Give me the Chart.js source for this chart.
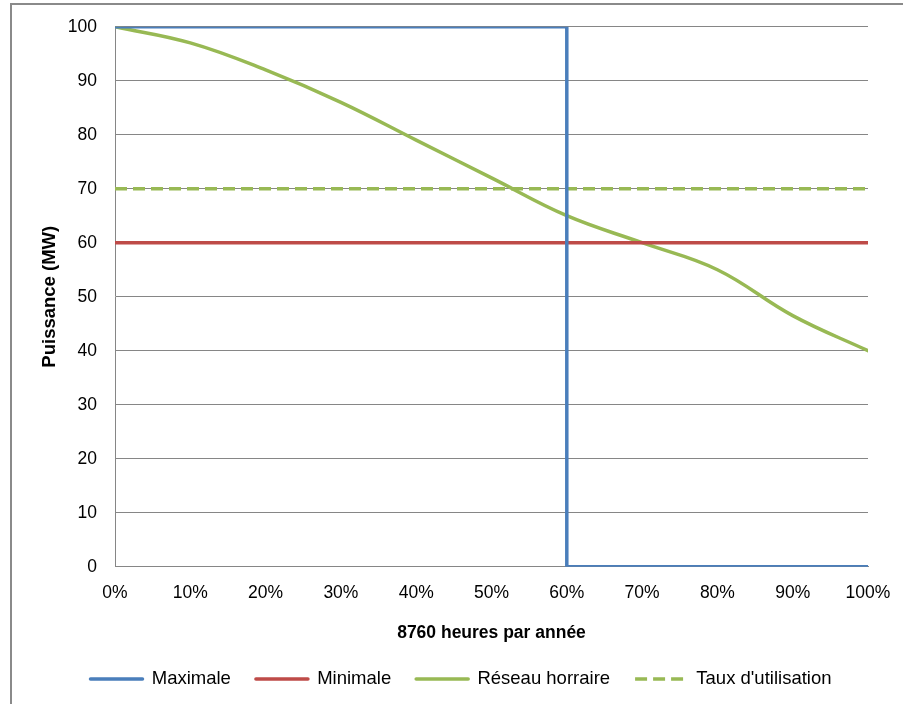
<!DOCTYPE html>
<html>
<head>
<meta charset="utf-8">
<script src="https://cdn.jsdelivr.net/npm/chart.js@4/dist/chart.umd.min.js"></script>
<style>
  html, body { margin: 0; padding: 0; background: #fff; overflow: hidden; }
  #frame { position: absolute; left: 10px; top: 3px; width: 1000px; height: 1000px; border: 2px solid #8a8a8a; }
  #chart { position: absolute; left: 0; top: 0; }
</style>
</head>
<body>
<div id="frame"></div>
<canvas id="chart" width="903" height="704"></canvas>
<script>
// x positions in % of the 8760 hours of the year
var hoursPct = [0, 10, 20, 30, 40, 50, 60, 70, 80, 90, 100];
// hourly network load (MW)
var reseauHoraire = [100, 97, 92, 86, 79, 72, 65, 60, 55, 46.5, 40];
// maximal production: full power up to 60% of the year then zero
var maximaleX = [0, 60, 60, 100];
var maximaleY = [100, 100, 0, 0];
var minimale = 60;
var tauxUtilisation = 70;
var yTicks = [0, 10, 20, 30, 40, 50, 60, 70, 80, 90, 100];

var FONT = '"Liberation Sans", Arial, sans-serif';
var GRID = '#868686';

function points(xs, ys) {
    return xs.map(function (x, i) { return { x: x, y: ys[i] }; });
}

document.addEventListener('DOMContentLoaded', function () {
    var ctx = document.getElementById('chart').getContext('2d');

    new Chart(ctx, {
        type: 'line',
        data: {
            datasets: [{
                label: 'Maximale',
                data: points(maximaleX, maximaleY),
                borderColor: '#4a7ebb',
                borderWidth: 3.5,
                borderCapStyle: 'round',
                tension: 0
            }, {
                label: 'Minimale',
                data: points([0, 100], [minimale, minimale]),
                borderColor: '#be4b48',
                borderWidth: 3.5,
                borderCapStyle: 'round',
                tension: 0
            }, {
                label: 'Réseau horraire',
                data: points(hoursPct, reseauHoraire),
                borderColor: '#98b954',
                borderWidth: 3.5,
                borderCapStyle: 'round',
                tension: 0.4
            }, {
                label: "Taux d'utilisation",
                data: points([0, 100], [tauxUtilisation, tauxUtilisation]),
                borderColor: '#98b954',
                borderWidth: 3.5,
                borderDash: [12, 6],
                borderCapStyle: 'butt',
                tension: 0
            }]
        },
        options: {
            responsive: false,
            animation: false,
            elements: { point: { radius: 0, hoverRadius: 0 } },
            layout: { padding: { left: 32, right: 13, top: 26.7, bottom: 5.75 } },
            scales: {
                x: {
                    type: 'linear',
                    min: 0,
                    max: 100,
                    grid: { display: false, drawTicks: false },
                    border: { display: true, color: GRID, width: 1 },
                    ticks: {
                        stepSize: 10,
                        padding: 16,
                        color: '#000',
                        font: { family: FONT, size: 17.5 },
                        callback: function (v) { return v + '%'; }
                    },
                    title: {
                        display: true,
                        text: '8760 heures par année',
                        color: '#000',
                        font: { family: FONT, size: 17.5, weight: 'bold' },
                        padding: { top: 0, bottom: 1 }
                    },
                    afterFit: function (scale) {
                        scale.height = 78;
                        scale.paddingLeft = 0;
                        scale.paddingRight = 35;
                    }
                },
                y: {
                    min: 0,
                    max: 100,
                    afterBuildTicks: function (scale) {
                        scale.ticks = yTicks.map(function (v) { return { value: v }; });
                    },
                    grid: { color: GRID, lineWidth: 1, drawTicks: false },
                    border: { display: true, color: GRID, width: 1 },
                    ticks: {
                        padding: 18,
                        color: '#000',
                        font: { family: FONT, size: 17.5 }
                    },
                    title: {
                        display: true,
                        text: 'Puissance (MW)',
                        color: '#000',
                        font: { family: FONT, size: 18.5, weight: 'bold' },
                        padding: { top: 7, bottom: 0 }
                    },
                    afterFit: function (scale) {
                        scale.width = 83;
                        scale.paddingTop = 0;
                        scale.paddingBottom = 0;
                    }
                }
            },
            plugins: {
                tooltip: { enabled: false },
                legend: {
                    display: true,
                    position: 'bottom',
                    labels: {
                        usePointStyle: true,
                        pointStyle: 'line',
                        pointStyleWidth: 52,
                        padding: 25,
                        color: '#000',
                        font: { family: FONT, size: 18.5 },
                        generateLabels: function (chart) {
                            return chart.data.datasets.map(function (ds, i) {
                                return {
                                    text: ds.label,
                                    strokeStyle: ds.borderColor,
                                    fillStyle: ds.borderColor,
                                    lineWidth: ds.borderWidth,
                                    lineDash: ds.borderDash || [],
                                    lineCap: ds.borderDash ? 'butt' : 'round',
                                    pointStyle: 'line',
                                    fontColor: '#000',
                                    datasetIndex: i
                                };
                            });
                        }
                    }
                }
            }
        }
    });
});
</script>
</body>
</html>
